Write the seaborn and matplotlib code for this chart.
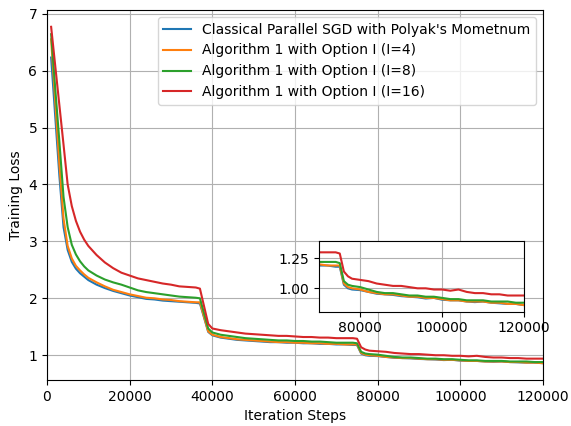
import matplotlib
matplotlib.use('Agg')
import matplotlib.pyplot as plt
import seaborn as sns

# iteration steps (shared by all four runs)
steps = [1000, 2000, 3000, 4000, 5000, 6000, 7000, 8000, 9000,
         10000, 12000, 14000, 16000, 18000, 20000, 22000, 24000, 26000,
         28000, 30000, 32000, 34000, 36000,
         37000, 39000, 40000,
         42000, 44000, 46000, 48000, 50000, 52000, 54000, 56000, 58000,
         60000, 62000, 64000, 66000, 68000, 70000, 72000, 74000,
         75000, 76000, 77000, 78000,
         80000, 82000, 84000, 86000, 88000, 90000, 92000, 94000, 96000,
         98000, 100000, 102000, 104000, 106000, 108000, 110000, 112000,
         114000, 116000, 118000, 120000]

loss_sgd = [6.23, 5.19, 4.15, 3.25, 2.85, 2.64, 2.52, 2.44, 2.38,
            2.32, 2.24, 2.18, 2.13, 2.09, 2.05, 2.02, 1.99, 1.98,
            1.96, 1.95, 1.94, 1.93, 1.92,
            1.91, 1.41, 1.35,
            1.31, 1.29, 1.27, 1.26, 1.25, 1.24, 1.23, 1.23, 1.22,
            1.22, 1.21, 1.21, 1.20, 1.20, 1.19, 1.19, 1.18,
            1.18, 1.03, 1.00, 0.99,
            0.985, 0.97, 0.955, 0.95, 0.945, 0.935, 0.93, 0.925, 0.915,
            0.92, 0.905, 0.90, 0.90, 0.89, 0.885, 0.89, 0.88,
            0.875, 0.87, 0.87, 0.86]

loss_i4 = [6.55, 5.45, 4.35, 3.40, 2.92, 2.70, 2.57, 2.49, 2.42,
           2.36, 2.28, 2.21, 2.15, 2.11, 2.07, 2.04, 2.01, 2.00,
           1.98, 1.97, 1.95, 1.94, 1.93,
           1.93, 1.42, 1.36,
           1.32, 1.30, 1.28, 1.27, 1.26, 1.25, 1.24, 1.23, 1.23,
           1.22, 1.22, 1.21, 1.21, 1.20, 1.20, 1.19, 1.19,
           1.19, 1.04, 1.01, 1.00,
           0.99, 0.97, 0.96, 0.95, 0.95, 0.94, 0.93, 0.93, 0.92,
           0.92, 0.91, 0.90, 0.90, 0.89, 0.89, 0.89, 0.88,
           0.88, 0.87, 0.87, 0.86]

loss_i8 = [6.64, 5.68, 4.75, 3.78, 3.25, 2.94, 2.77, 2.65, 2.56,
           2.49, 2.40, 2.33, 2.28, 2.24, 2.19, 2.14, 2.11, 2.09,
           2.07, 2.05, 2.03, 2.02, 2.01,
           2.00, 1.47, 1.40,
           1.36, 1.34, 1.32, 1.30, 1.29, 1.28, 1.27, 1.26, 1.26,
           1.25, 1.25, 1.24, 1.24, 1.23, 1.22, 1.22, 1.22,
           1.21, 1.06, 1.03, 1.02,
           1.01, 0.99, 0.97, 0.96, 0.96, 0.95, 0.94, 0.94, 0.93,
           0.93, 0.92, 0.91, 0.91, 0.90, 0.90, 0.90, 0.89,
           0.89, 0.89, 0.88, 0.88]

loss_i16 = [6.77, 6.08, 5.39, 4.70, 4.00, 3.62, 3.36, 3.17, 3.03,
            2.92, 2.76, 2.63, 2.53, 2.45, 2.40, 2.35, 2.32, 2.29,
            2.26, 2.24, 2.21, 2.20, 2.19,
            2.17, 1.55, 1.47,
            1.44, 1.42, 1.40, 1.38, 1.37, 1.36, 1.35, 1.34, 1.34,
            1.33, 1.32, 1.32, 1.31, 1.31, 1.30, 1.30, 1.30,
            1.29, 1.14, 1.10, 1.08,
            1.07, 1.06, 1.04, 1.03, 1.02, 1.02, 1.01, 1.00, 1.00,
            0.99, 0.99, 0.98, 0.99, 0.97, 0.96, 0.96, 0.95,
            0.95, 0.94, 0.94, 0.94]

labels = ["Classical Parallel SGD with Polyak's Mometnum",
          'Algorithm 1 with Option I (I=4)',
          'Algorithm 1 with Option I (I=8)',
          'Algorithm 1 with Option I (I=16)']
series = [loss_sgd, loss_i4, loss_i8, loss_i16]
colors = ['#1f77b4', '#ff7f0e', '#2ca02c', '#d62728']


fig = plt.figure(figsize=(5.71, 4.26), dpi=100)
ax = fig.add_axes([0.0823, 0.108, 0.8687, 0.8685])

for vals, lab, c in zip(series, labels, colors):
    sns.lineplot(x=steps, y=vals, label=lab, color=c, ax=ax, linewidth=1.5)

ax.set_xlim(0, 120000)
ax.set_ylim(0.565, 7.065)
ax.set_xlabel('Iteration Steps')
ax.set_ylabel('Training Loss')
ax.grid(True)
ax.legend(loc='upper right')

# zoomed inset of the tail
axin = fig.add_axes([0.5592, 0.2683, 0.3585, 0.1667])
for vals, c in zip(series, colors):
    sns.lineplot(x=steps, y=vals, color=c, ax=axin, linewidth=1.5, legend=False)
axin.set_xlim(70000, 120000)
axin.set_ylim(0.805, 1.397)
axin.set_xticks([80000, 100000, 120000])
axin.set_yticks([1.0, 1.25])
axin.grid(True)

fig.savefig('out.png', dpi=100)
